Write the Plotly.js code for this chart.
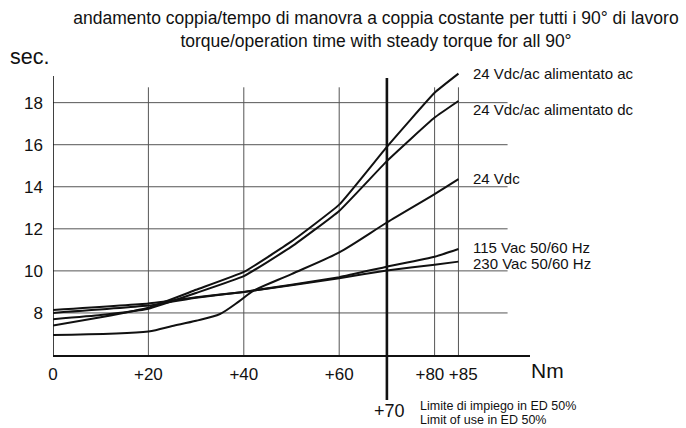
<!DOCTYPE html>
<html>
<head>
<meta charset="utf-8">
<script src="https://cdn.plot.ly/plotly-3.0.1.min.js"></script>
<style>
  html, body { margin: 0; padding: 0; background: #fff; }
  #chart { width: 686px; height: 428px; }
</style>
</head>
<body>
<div id="chart"></div>
<script>
// ---- data ----
const seriesNames = [
  "24 Vdc/ac alimentato ac",
  "24 Vdc/ac alimentato dc",
  "24 Vdc",
  "115 Vac 50/60 Hz",
  "230 Vac 50/60 Hz"
];
const acNm   = [0, 10, 20, 30, 40, 50, 60, 70, 80, 85];
const acSec  = [7.4, 7.8, 8.25, 9.1, 9.95, 11.4, 13.15, 15.9, 18.47, 19.38];
const dcNm   = [0, 10, 20, 30, 40, 50, 60, 70, 80, 85];
const dcSec  = [7.7, 7.9, 8.2, 8.95, 9.75, 11.15, 12.85, 15.22, 17.29, 18.08];
const vdcNm  = [0, 20, 25, 30, 35, 39, 42, 50, 60, 70, 80, 85];
const vdcSec = [6.95, 7.12, 7.38, 7.63, 7.95, 8.55, 9.05, 9.85, 10.88, 12.3, 13.65, 14.36];
const v115Nm  = [0, 20, 30, 40, 60, 70, 80, 85];
const v115Sec = [8.0, 8.35, 8.72, 9.0, 9.7, 10.2, 10.67, 11.04];
const v230Nm  = [0, 20, 30, 40, 60, 70, 80, 85];
const v230Sec = [8.14, 8.45, 8.75, 9.0, 9.65, 10.02, 10.29, 10.44];

const xTickVals = [0, 20, 40, 60, 80, 85];
const xTickText = ["0", "+20", "+40", "+60", "+80\u00a0\u00a0", "\u00a0\u00a0+85"];
const xGridVals = [20, 40, 60, 80, 85];
const yTickVals = [8, 10, 12, 14, 16, 18];
const limitNm = 70;
const limitText = ["Limite di impiego in ED 50%", "Limit of use in ED 50%"];
const titleLines = [
  "andamento coppia/tempo di manovra a coppia costante per tutti i 90° di lavoro",
  "torque/operation time with steady torque for all 90°"
];

// ---- styling / layout ----
const FONT = "Liberation Sans, Arial, Helvetica, sans-serif";
const INK = "#111";
const xs = [acNm, dcNm, vdcNm, v115Nm, v230Nm];
const ys = [acSec, dcSec, vdcSec, v115Sec, v230Sec];
const labelShift = [0, -9, 1, 2, -2];
const smooth = [0.35, 0.35, 0.8, 0.35, 0.35];

const traces = xs.map((x, i) => ({
  x: x, y: ys[i], name: seriesNames[i], type: "scatter", mode: "lines",
  line: { color: INK, width: 2, shape: "spline", smoothing: smooth[i] }, hoverinfo: "skip"
}));

const Y0 = 6, Y1 = 19.6, AXIS_TOP = 19.27, GRID_TOP = 18.73, GRID_RIGHT = 95.3;
const M = { l: 53, r: 156, t: 69, b: 73 };
const plotH = 428 - M.t - M.b;
const plotW = 686 - M.l - M.r;
const px2py = (py) => (428 - M.b - py) / plotH; // container y px -> paper y
const px2px = (px) => (px - M.l) / plotW;        // container x px -> paper x

const shapes = [];
xGridVals.forEach(v => shapes.push({
  type: "line", xref: "x", yref: "y", x0: v, x1: v, y0: Y0, y1: GRID_TOP,
  line: { color: "#555", width: 1 }, layer: "below"
}));
yTickVals.forEach(v => shapes.push({
  type: "line", xref: "x", yref: "y", x0: 0, x1: GRID_RIGHT, y0: v, y1: v,
  line: { color: "#555", width: 1 }, layer: "below"
}));
// y axis line (shorter than the plotting range)
shapes.push({
  type: "line", xref: "x", yref: "y", x0: 0, x1: 0, y0: Y0, y1: AXIS_TOP,
  line: { color: INK, width: 1.6 }, layer: "above"
});
shapes.push({
  type: "line", xref: "x", yref: "paper", x0: limitNm, x1: limitNm,
  y0: px2py(400), y1: px2py(78), line: { color: INK, width: 2.6 }, layer: "above"
});

const annotations = [];
seriesNames.forEach((n, i) => annotations.push({
  text: n, xref: "x", yref: "y", x: xs[i][xs[i].length - 1], y: ys[i][ys[i].length - 1],
  xanchor: "left", yanchor: "middle", xshift: 13, yshift: labelShift[i],
  showarrow: false, font: { family: FONT, size: 15, color: INK }
}));
annotations.push({ text: "sec.", xref: "paper", yref: "paper", x: px2px(8), y: px2py(57),
  xanchor: "left", yanchor: "middle", showarrow: false, font: { family: FONT, size: 21.5, color: INK } });
annotations.push({ text: "Nm", xref: "paper", yref: "paper", x: px2px(529), y: px2py(370),
  xanchor: "left", yanchor: "middle", showarrow: false, font: { family: FONT, size: 21, color: INK } });
annotations.push({ text: "+" + limitNm, xref: "x", yref: "paper", x: limitNm, y: px2py(411),
  xanchor: "center", yanchor: "middle", xshift: 3, showarrow: false, font: { family: FONT, size: 18, color: INK } });
limitText.forEach((t, i) => annotations.push({ text: t, xref: "paper", yref: "paper",
  x: px2px(418), y: px2py(406 + 14 * i), xanchor: "left", yanchor: "middle", showarrow: false,
  font: { family: FONT, size: 12.5, color: INK } }));

const layout = {
  width: 686, height: 428,
  margin: M,
  paper_bgcolor: "#fff", plot_bgcolor: "#fff",
  showlegend: false,
  font: { family: FONT, color: INK },
  title: {
    text: titleLines.join("<br>"),
    x: 376 / 686, xanchor: "center", xref: "container",
    y: 1 - 24 / 428, yanchor: "top", yref: "container",
    font: { family: FONT, size: 17.5, color: INK }
  },
  xaxis: {
    range: [0, 100], showgrid: false, zeroline: false,
    showline: true, linecolor: INK, linewidth: 1.6,
    tickmode: "array", tickvals: xTickVals, ticktext: xTickText,
    ticks: "", tickangle: 0, ticklabelstandoff: 3,
    tickfont: { family: FONT, size: 17, color: INK }, fixedrange: true
  },
  yaxis: {
    range: [Y0, Y1], showgrid: false, zeroline: false,
    showline: false,
    tickmode: "array", tickvals: yTickVals, ticks: "", ticklabelstandoff: 9,
    tickfont: { family: FONT, size: 17, color: INK }, fixedrange: true
  },
  shapes: shapes,
  annotations: annotations
};

Plotly.newPlot("chart", traces, layout, { staticPlot: true, displayModeBar: false });
</script>
</body>
</html>
